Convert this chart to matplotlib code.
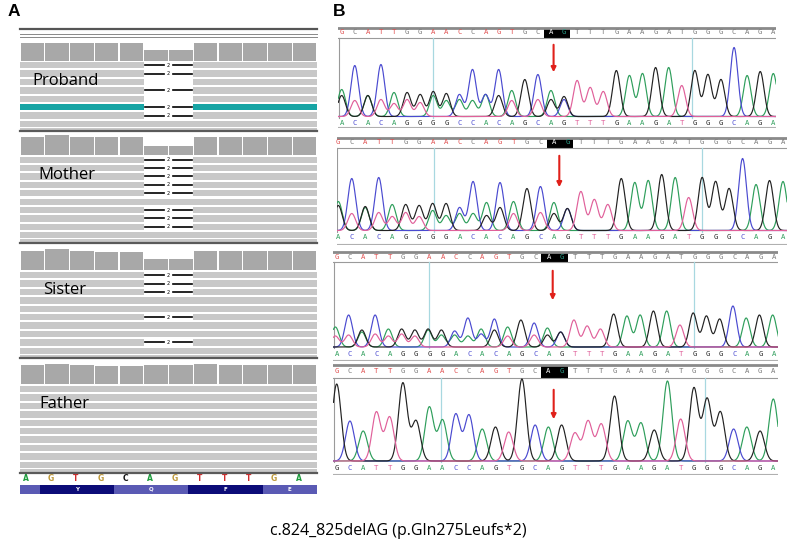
import numpy as np
import matplotlib.pyplot as plt

W, H = 803, 557

# ---------------- panel A data (IGV view) ----------------
ref_bases = "AGTGCAGTTTGA"
codon_labels = ["", "Y", "Q", "F", "E"]
codon_starts = [0.0, 0.8, 3.8, 6.8, 9.8]
codon_ends = [0.8, 3.8, 6.8, 9.8, 12.0]
del_start, del_end = 5, 7

samples = ["Proband", "Mother", "Sister", "Father"]
coverage = {
    "Proband": [18, 18, 18, 18, 18, 10.5, 10.5, 18, 18, 18, 18, 18],
    "Mother": [18.3, 20, 18.3, 18.3, 18.3, 9.3, 9.3, 18.3, 18.3, 18.3, 18.3, 18.3],
    "Sister": [19.3, 20.7, 19.3, 18.3, 18.3, 11, 11, 19.3, 19.3, 19.3, 19.3, 18.7],
    "Father": [19, 19.8, 19, 18.5, 18.5, 18.7, 18.7, 20, 19.5, 19, 19, 19],
}
# what each read row shows across the deleted bases
read_rows = {
    "Proband": ["del", "del", "none", "del", "none", "del", "del", "read"],
    "Mother": ["del", "del", "del", "del", "del", "read", "del", "del", "del", "read"],
    "Sister": ["del", "del", "del", "read", "read", "del", "read", "read", "del", "read"],
    "Father": ["read"] * 10,
}
highlight_rows = {"Proband": [5]}

# ---------------- panel B data (Sanger traces) ----------------
top_seq = "GCATTGGAACCAGTGCAGTTTGAAGATGGGCAGA"
top_marks = "r.rrr..rrr.rrr..xx................"
called = [
    "ACACAGGGGCCACAGCAGTTTGAAGATGGGCAGA",
    "ACACAGGGGACACAGCAGTTTGAAGATGGGCAGA",
    "ACACAGGGGACACAGCAGTTTGAAGATGGGCAGA",
    "GCATTGGAACCAGTGCAGTTTGAAGATGGGCAGA",
]
peak_main = [
    "ACACAGGGGCCACAGCAGTTTGAAGATGGGCAGA",
    "ACGCAGGGGCCACAGCAGTTTGAAGATGGGCAGA",
    "ACGCAGGGGCCACAGCAGTTTGAAGATGGGCAGA",
    "GCATTGGAACCAGTGCAGTTTGAAGATGGGCAGA",
]
height_main = [
    [27, 51, 21, 52, 24, 24, 22, 25, 23, 22, 47, 22, 47, 26, 37, 42, 26, 20,
     36, 29, 25, 46, 41, 43, 49, 49, 31, 46, 42, 37, 69, 41, 45, 43],
    [29, 52, 24, 53, 26, 26, 25, 27, 27, 23, 49, 28, 48, 29, 42, 44, 28, 22,
     39, 31, 26, 52, 48, 50, 56, 53, 33, 53, 49, 42, 72, 46, 50, 49],
    [20, 32, 17, 32, 18, 18, 17, 18, 17, 16, 29, 18, 28, 20, 27, 24, 19, 15,
     27, 21, 18, 33, 31, 32, 36, 36, 22, 34, 31, 28, 41, 29, 32, 32],
    [77, 40, 30, 49, 44, 78, 40, 54, 41, 47, 46, 32, 34, 29, 82, 36, 34, 36,
     28, 40, 37, 65, 40, 38, 31, 80, 42, 73, 62, 49, 32, 34, 30, 62],
]
peak_second = [
    "GTGTTTTAAAACGT-TGC" + "-" * 16,
    "GTATTTTAAAAGGT-TGC" + "-" * 16,
    "TTATTTTAAAACGT-TGC" + "-" * 16,
    "-" * 34,
]
height_second = [
    [21, 16, 21, 17, 13, 17, 14, 21, 16, 17, 16, 22, 21, 16, 0, 17, 17, 17] + [0] * 16,
    [25, 17, 23, 18, 14, 18, 14, 20, 15, 17, 17, 15, 23, 17, 0, 18, 17, 22] + [0] * 16,
    [11, 12, 15, 13, 11, 13, 11, 17, 12, 12, 11, 13, 17, 11, 0, 12, 12, 15] + [0] * 16,
    [0] * 34,
]
marker_pos = [[6.96, 26.8], [7.1, 27.0], [6.99, 27.0], [7.9, 27.8]]
arrow_pos = [16.2, 16.4, 16.3, 16.4]
arrow_span = [(75.5, 42.5), (78.5, 41.5), (80, 45), (75, 40)]

caption = "c.824_825delAG (p.Gln275Leufs*2)"

trace_colors = {"A": "#2e9e5b", "C": "#4a4ad0", "G": "#222222", "T": "#e0609a"}
igv_colors = {"A": "#1a9a3a", "G": "#c09a3a", "T": "#d02a2a", "C": "#111111"}

fig = plt.figure(figsize=(W / 100, H / 100), dpi=100)


def px_axes(x0, y0, x1, y1, z=1):
    ax = fig.add_axes([x0 / W, 1 - y1 / H, (x1 - x0) / W, (y1 - y0) / H], zorder=z)
    ax.set_axis_off()
    ax.patch.set_alpha(0)
    return ax


# overlay in pixel coordinates for frame lines and labels
ov = px_axes(0, 0, W, H, z=5)
ov.set_xlim(0, W)
ov.set_ylim(H, 0)

ov.text(8, 12, "A", fontsize=12.5, fontweight="bold", family="Liberation Sans", va="center")
ov.text(333, 12, "B", fontsize=12.5, fontweight="bold", family="Liberation Sans", va="center")
ov.text(398, 531, caption, fontsize=11.5, family="Open Sans", ha="center", va="center")

# ---------------- panel A ----------------
AX0, AX1 = 20, 317
ov.plot([AX0, AX1], [28.5, 28.5], color="#555555", lw=1.6)
ov.plot([AX0, AX1], [34, 34], color="#888888", lw=0.7)
ov.plot([AX0, AX1], [36.5, 36.5], color="#888888", lw=0.7)

cov_bottom = [60.5, 155, 270, 384]
reads_box = [(61, 128.2), (155.5, 239.5), (271, 355), (385, 469)]
sep_y = [130.5, 243.3, 357.5, 472.7]
label_xy = [(32, 81), (38, 175), (43, 290), (39, 404)]

for k, name in enumerate(samples):
    cax = px_axes(AX0, cov_bottom[k] - 22, AX1, cov_bottom[k])
    cax.bar(np.arange(12) + 0.03, coverage[name], width=0.94, align="edge", color="#a8a8a8")
    cax.set_xlim(0, 12)
    cax.set_ylim(0, 22)

    rows = read_rows[name]
    n = len(rows)
    rax = px_axes(AX0, reads_box[k][0], AX1, reads_box[k][1])
    rax.set_xlim(0, 12)
    rax.set_ylim(n - 0.5, -0.5)
    for i, state in enumerate(rows):
        col = "#17a5a5" if i in highlight_rows.get(name, []) else "#c8c8c8"
        if state == "read":
            rax.barh(i, 12, left=0, height=0.74, color=col)
        else:
            rax.barh(i, del_start, left=0, height=0.74, color=col)
            rax.barh(i, 12 - del_end, left=del_end, height=0.74, color=col)
        if state == "del":
            mid = (del_start + del_end) / 2
            rax.plot([del_start + 0.05, mid - 0.2], [i, i], color="black", lw=1.2)
            rax.plot([mid + 0.2, del_end - 0.05], [i, i], color="black", lw=1.2)
            rax.text(mid, i, "2", fontsize=3.5, ha="center", va="center")
    # grey filler under the last read
    rax.barh(n - 0.5 + 0.15, 12, left=0, height=0.3, color="#c8c8c8", clip_on=False)

    ov.plot([AX0, AX1], [sep_y[k], sep_y[k]], color="#5a5a5a", lw=1.6)
    ov.text(label_xy[k][0], label_xy[k][1], name, fontsize=12, family="Open Sans",
            va="center", ha="left")

# reference bases and amino acids
bax = px_axes(AX0, 473.5, AX1, 483)
bax.set_xlim(0, 12)
bax.set_ylim(0, 1)
for i, b in enumerate(ref_bases):
    bax.text(i + 0.25, 0.5, b, color=igv_colors[b], fontsize=5.5, fontweight="bold",
             ha="center", va="center")

aax = px_axes(AX0, 485, AX1, 493.5)
aax.set_xlim(0, 12)
aax.set_ylim(-0.5, 0.5)
for j, lab in enumerate(codon_labels):
    col = "#0c0c78" if j % 2 == 1 else "#5a5ab4"
    aax.barh(0, codon_ends[j] - codon_starts[j], left=codon_starts[j], height=1, color=col)
    aax.text((codon_starts[j] + codon_ends[j]) / 2, 0, lab, color="white", fontsize=4,
             fontweight="bold", ha="center", va="center")

# ---------------- panel B ----------------
# per trace: top line, header line, baseline, bottom line (pixels)
frame_y = [(27, 37.5, 117.5, 128), (137, 148, 231.5, 245), (251, 262, 348, 361), (364, 378, 462, 475)]
frame_x = [(338.5, 776), (337, 787), (333.5, 778.5), (333.5, 778)]
letter_x = [(341.7, 773.3), (338.3, 783), (336.7, 774), (336.7, 773.3)]
peak_shift = [0, 0, -0.1, 0]

xs = np.linspace(-1, 34, 2500)
for k in range(4):
    yt, yh, yb, yl = frame_y[k]
    xl, xr = frame_x[k]
    f0, f1 = letter_x[k]
    sp = (f1 - f0) / 33
    ax = px_axes(xl, yt, xr, yl, z=2)
    ax.set_xlim((xl - f0) / sp, (xr - f0) / sp)
    ax.set_ylim(yb - yl, yb - yt)
    x_lo, x_hi = ax.get_xlim()
    top_y = yb - yt
    head_y = yb - yh

    # frame lines
    ax.plot([x_lo, x_hi], [top_y - 0.8, top_y - 0.8], color="#8a8a8a", lw=2)
    ax.plot([x_lo, x_hi], [head_y, head_y], color="#9a9a9a", lw=0.8)
    ax.plot([x_lo + 0.02, x_lo + 0.02], [0, head_y], color="#9a9a9a", lw=0.8)
    ax.plot([x_lo, x_hi], [yb - yl + 0.6, yb - yl + 0.6], color="#b0b0b0", lw=0.8)

    # reference header letters
    letter_y = (top_y + head_y) / 2
    ax.fill_between([15.45, 17.45], head_y, top_y - 1.6, color="black", lw=0)
    for i, b in enumerate(top_seq):
        m = top_marks[i]
        if m == "x":
            col = "white" if b == "A" else "#2aa08a"
        elif m == "r":
            col = "#e05050"
        else:
            col = "#7a7a7a"
        ax.text(i, letter_y, b, color=col, fontsize=5.2, family="DejaVu Sans Mono",
                ha="center", va="center")

    # called bases below the trace
    for i, b in enumerate(called[k]):
        ax.text(i, -5.5, b, color=trace_colors[b], fontsize=5.2, family="DejaVu Sans Mono",
                ha="center", va="center")

    # light-blue position markers
    for mp in marker_pos[k]:
        ax.plot([mp, mp], [0, head_y], color="#a8d8e0", lw=0.9)

    # traces, one per base channel
    sig = 0.33 if k == 3 else 0.29
    for base in "ACGT":
        y = np.full_like(xs, 1.0)
        for i in range(34):
            if peak_main[k][i] == base:
                y += height_main[k][i] * np.exp(-(xs - i - peak_shift[k]) ** 2 / (2 * sig ** 2))
            if peak_second[k][i] == base:
                y += height_second[k][i] * np.exp(-(xs - i - peak_shift[k]) ** 2 / (2 * sig ** 2))
        ax.plot(xs, y, color=trace_colors[base], lw=0.85)

    a_top, a_bot = arrow_span[k]
    ax.annotate("", xy=(arrow_pos[k], a_bot), xytext=(arrow_pos[k], a_top),
                arrowprops=dict(arrowstyle="-|>", color="#e0201a", lw=1.5, mutation_scale=7))

fig.savefig("out.png", dpi=100)
